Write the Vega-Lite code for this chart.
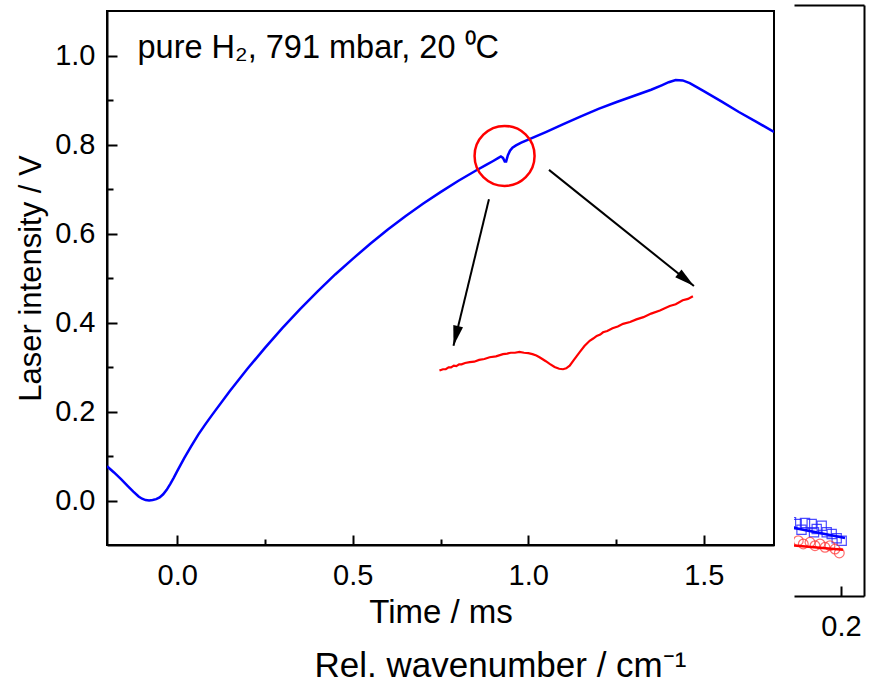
{
  "$schema": "https://vega.github.io/schema/vega-lite/v6.json",
  "padding": {"left": 14, "top": 5, "right": 11, "bottom": 3},
  "background": "white",
  "spacing": 19,
  "config": {
    "font": "Liberation Sans",
    "axis": {"labelFont": "Liberation Sans", "titleFont": "Liberation Sans", "labelColor": "#000", "titleColor": "#000", "domainColor": "#000", "tickColor": "#000", "domainWidth": 2, "tickWidth": 2, "grid": false, "labelFontSize": 29, "titleFontSize": 32, "titleFontWeight": "normal"},
    "title": {"font": "Liberation Sans", "fontSize": 35, "fontWeight": "normal", "color": "#000"}
  },
  "hconcat": [
    {
      "width": 667,
      "height": 534,
      "view": {"stroke": "#000", "strokeWidth": 2},
      "title": {"text": "Rel. wavenumber / cm⁻¹", "orient": "bottom", "anchor": "middle", "dx": 60, "offset": 20},
      "layer": [
        {
          "data": {"values": [
            {"t": -0.2, "v": 0.077}, {"t": -0.18, "v": 0.063}, {"t": -0.16, "v": 0.048}, {"t": -0.14, "v": 0.032},
            {"t": -0.125, "v": 0.02}, {"t": -0.11, "v": 0.009}, {"t": -0.1, "v": 0.004}, {"t": -0.09, "v": 0.001},
            {"t": -0.08, "v": 0.0}, {"t": -0.07, "v": 0.001}, {"t": -0.06, "v": 0.003}, {"t": -0.05, "v": 0.007},
            {"t": -0.04, "v": 0.014}, {"t": -0.03, "v": 0.024}, {"t": -0.02, "v": 0.037}, {"t": -0.01, "v": 0.051},
            {"t": 0.0, "v": 0.066}, {"t": 0.02, "v": 0.095}, {"t": 0.04, "v": 0.122}, {"t": 0.06, "v": 0.148},
            {"t": 0.08, "v": 0.171}, {"t": 0.1, "v": 0.193}, {"t": 0.15, "v": 0.246}, {"t": 0.2, "v": 0.296},
            {"t": 0.25, "v": 0.343}, {"t": 0.3, "v": 0.388}, {"t": 0.35, "v": 0.43}, {"t": 0.4, "v": 0.47},
            {"t": 0.45, "v": 0.508}, {"t": 0.5, "v": 0.543}, {"t": 0.55, "v": 0.577}, {"t": 0.6, "v": 0.609},
            {"t": 0.65, "v": 0.639}, {"t": 0.7, "v": 0.667}, {"t": 0.75, "v": 0.693}, {"t": 0.8, "v": 0.718},
            {"t": 0.85, "v": 0.741}, {"t": 0.88, "v": 0.754}, {"t": 0.9, "v": 0.763}, {"t": 0.915, "v": 0.77},
            {"t": 0.922, "v": 0.773}, {"t": 0.928, "v": 0.77}, {"t": 0.933, "v": 0.762}, {"t": 0.937, "v": 0.762},
            {"t": 0.942, "v": 0.776}, {"t": 0.948, "v": 0.786}, {"t": 0.955, "v": 0.793}, {"t": 0.965, "v": 0.798},
            {"t": 0.98, "v": 0.804}, {"t": 1.0, "v": 0.811}, {"t": 1.05, "v": 0.828}, {"t": 1.1, "v": 0.846},
            {"t": 1.15, "v": 0.863}, {"t": 1.2, "v": 0.88}, {"t": 1.25, "v": 0.895}, {"t": 1.3, "v": 0.909},
            {"t": 1.35, "v": 0.923}, {"t": 1.38, "v": 0.933}, {"t": 1.4, "v": 0.94}, {"t": 1.42, "v": 0.945},
            {"t": 1.44, "v": 0.944}, {"t": 1.46, "v": 0.938}, {"t": 1.48, "v": 0.929}, {"t": 1.5, "v": 0.92},
            {"t": 1.55, "v": 0.897}, {"t": 1.6, "v": 0.873}, {"t": 1.65, "v": 0.851}, {"t": 1.7, "v": 0.828}
          ]},
          "mark": {"type": "line", "color": "#0000ff", "strokeWidth": 2.5, "clip": true},
          "encoding": {
            "x": {"field": "t", "type": "quantitative", "scale": {"domain": [-0.2, 1.7], "nice": false, "zero": false},
              "axis": {"orient": "bottom", "title": "Time / ms", "titleFontSize": 33, "values": [0, 0.25, 0.5, 0.75, 1, 1.25, 1.5],
                "labelExpr": "round(datum.value*4)%2==0 ? format(datum.value,'.1f') : ''",
                "tickSize": {"condition": {"test": "round(datum.value*4)%2!=0", "value": -6}, "value": -10},
                "labelPadding": 26, "titlePadding": 6}},
            "y": {"field": "v", "type": "quantitative", "scale": {"domain": [-0.1, 1.1], "nice": false, "zero": false},
              "axis": {"orient": "left", "title": "Laser intensity / V", "titleFontSize": 31, "values": [0, 0.1, 0.2, 0.3, 0.4, 0.5, 0.6, 0.7, 0.8, 0.9, 1.0],
                "labelExpr": "round(datum.value*10)%2==0 ? format(datum.value,'.1f') : ''",
                "tickSize": {"condition": {"test": "round(datum.value*10)%2!=0", "value": -6}, "value": -10},
                "labelPadding": 22, "titlePadding": 7}}
          }
        },
        {
          "data": {"values": [
            {"t": 0.747, "v": 0.292}, {"t": 0.757, "v": 0.295}, {"t": 0.765, "v": 0.295}, {"t": 0.773, "v": 0.299},
            {"t": 0.78, "v": 0.299}, {"t": 0.788, "v": 0.303}, {"t": 0.795, "v": 0.302}, {"t": 0.803, "v": 0.306},
            {"t": 0.81, "v": 0.306}, {"t": 0.82, "v": 0.309}, {"t": 0.833, "v": 0.311}, {"t": 0.846, "v": 0.312},
            {"t": 0.86, "v": 0.316}, {"t": 0.875, "v": 0.318}, {"t": 0.89, "v": 0.322}, {"t": 0.908, "v": 0.324},
            {"t": 0.928, "v": 0.329}, {"t": 0.94, "v": 0.33}, {"t": 0.95, "v": 0.332}, {"t": 0.962, "v": 0.332},
            {"t": 0.975, "v": 0.334}, {"t": 0.988, "v": 0.332}, {"t": 1.0, "v": 0.331}, {"t": 1.012, "v": 0.329},
            {"t": 1.023, "v": 0.326}, {"t": 1.032, "v": 0.322}, {"t": 1.04, "v": 0.318}, {"t": 1.05, "v": 0.313},
            {"t": 1.061, "v": 0.307}, {"t": 1.075, "v": 0.3}, {"t": 1.088, "v": 0.296}, {"t": 1.099, "v": 0.295},
            {"t": 1.108, "v": 0.297}, {"t": 1.118, "v": 0.303}, {"t": 1.13, "v": 0.316}, {"t": 1.146, "v": 0.333},
            {"t": 1.16, "v": 0.347}, {"t": 1.175, "v": 0.359}, {"t": 1.185, "v": 0.364}, {"t": 1.195, "v": 0.37},
            {"t": 1.205, "v": 0.373}, {"t": 1.213, "v": 0.378}, {"t": 1.225, "v": 0.381}, {"t": 1.24, "v": 0.387},
            {"t": 1.255, "v": 0.391}, {"t": 1.27, "v": 0.397}, {"t": 1.29, "v": 0.401}, {"t": 1.308, "v": 0.407},
            {"t": 1.328, "v": 0.412}, {"t": 1.35, "v": 0.42}, {"t": 1.375, "v": 0.427}, {"t": 1.403, "v": 0.437},
            {"t": 1.42, "v": 0.441}, {"t": 1.44, "v": 0.45}, {"t": 1.455, "v": 0.453}, {"t": 1.469, "v": 0.459}
          ]},
          "mark": {"type": "line", "color": "#ff0000", "strokeWidth": 2.2},
          "encoding": {
            "x": {"field": "t", "type": "quantitative"},
            "y": {"field": "v", "type": "quantitative"}
          }
        },
        {
          "data": {"values": [{"t": 0.9325, "v": 0.7743}]},
          "mark": {"type": "point", "shape": "circle", "size": 3600, "filled": false, "color": "#ff0000", "strokeWidth": 2.5, "opacity": 1},
          "encoding": {
            "x": {"field": "t", "type": "quantitative"},
            "y": {"field": "v", "type": "quantitative"}
          }
        },
        {
          "data": {"values": [
            {"t": 0.888, "v": 0.677, "t2": 0.787, "v2": 0.348},
            {"t": 1.059, "v": 0.743, "t2": 1.472, "v2": 0.482}
          ]},
          "mark": {"type": "rule", "color": "#000", "strokeWidth": 2},
          "encoding": {
            "x": {"field": "t", "type": "quantitative"},
            "y": {"field": "v", "type": "quantitative"},
            "x2": {"field": "t2"},
            "y2": {"field": "v2"}
          }
        },
        {
          "data": {"values": [{"t": 0.787, "v": 0.348}]},
          "mark": {"type": "point", "shape": "M0,0L-0.5,2L0.5,2Z", "size": 400, "filled": true, "color": "#000", "opacity": 1, "angle": 193.5},
          "encoding": {
            "x": {"field": "t", "type": "quantitative"},
            "y": {"field": "v", "type": "quantitative"}
          }
        },
        {
          "data": {"values": [{"t": 1.472, "v": 0.482}]},
          "mark": {"type": "point", "shape": "M0,0L-0.5,2L0.5,2Z", "size": 400, "filled": true, "color": "#000", "opacity": 1, "angle": 128.8},
          "encoding": {
            "x": {"field": "t", "type": "quantitative"},
            "y": {"field": "v", "type": "quantitative"}
          }
        },
        {
          "data": {"values": [{"t": -0.113, "v": 1.017, "label": "pure H₂, 791 mbar, 20 ⁰C"}]},
          "mark": {"type": "text", "align": "left", "baseline": "middle", "fontSize": 32.5, "font": "Liberation Sans", "color": "#000"},
          "encoding": {
            "x": {"field": "t", "type": "quantitative"},
            "y": {"field": "v", "type": "quantitative"},
            "text": {"field": "label"}
          }
        }
      ]
    },
    {
      "width": 70,
      "height": 585,
      "view": {"stroke": null},
      "resolve": {"axis": {"x": "independent", "y": "independent"}},
      "layer": [
        {
          "data": {"values": [
            {"w": 0.09, "a": 0.128}, {"w": 0.1, "a": 0.125}, {"w": 0.1114, "a": 0.1218}, {"w": 0.121, "a": 0.112},
            {"w": 0.128, "a": 0.1235}, {"w": 0.1414, "a": 0.1218}, {"w": 0.146, "a": 0.108}, {"w": 0.1514, "a": 0.1134},
            {"w": 0.1614, "a": 0.119}, {"w": 0.1714, "a": 0.1078}, {"w": 0.1814, "a": 0.1049}, {"w": 0.1914, "a": 0.0976},
            {"w": 0.2014, "a": 0.0936}
          ]},
          "mark": {"type": "point", "shape": "square", "filled": false, "color": "#2020ff", "strokeWidth": 1.2, "size": 85, "opacity": 0.8, "clip": true},
          "encoding": {
            "x": {"field": "w", "type": "quantitative", "scale": {"domain": [0.106, 0.246], "nice": false, "zero": false},
              "axis": {"orient": "bottom", "values": [0.2], "format": ".1f", "tickSize": -10, "labelPadding": 26, "title": null}},
            "y": {"field": "a", "type": "quantitative", "scale": {"domain": [0, 1], "range": [585, -6], "nice": false, "zero": false},
              "axis": {"orient": "right", "labels": false, "ticks": false, "title": null}}
          }
        },
        {
          "data": {"values": [
            {"w": 0.095, "a": 0.092}, {"w": 0.1146, "a": 0.0936}, {"w": 0.1246, "a": 0.088}, {"w": 0.138, "a": 0.0909},
            {"w": 0.148, "a": 0.0851}, {"w": 0.158, "a": 0.088}, {"w": 0.168, "a": 0.0824}, {"w": 0.178, "a": 0.0851},
            {"w": 0.188, "a": 0.0795}, {"w": 0.1966, "a": 0.0728}
          ]},
          "mark": {"type": "point", "shape": "circle", "filled": false, "color": "#ff3030", "strokeWidth": 1.2, "size": 95, "opacity": 0.7, "clip": true},
          "encoding": {
            "x": {"field": "w", "type": "quantitative", "axis": null},
            "y": {"field": "a", "type": "quantitative", "axis": null}
          }
        },
        {
          "data": {"values": [{"w": 0.09, "a": 0.118}, {"w": 0.208, "a": 0.0981}]},
          "mark": {"type": "line", "color": "#0000ff", "strokeWidth": 2.5, "clip": true},
          "encoding": {
            "x": {"field": "w", "type": "quantitative",
              "axis": {"orient": "top", "labels": false, "ticks": false, "title": null, "offset": 6}},
            "y": {"field": "a", "type": "quantitative", "axis": null}
          }
        },
        {
          "data": {"values": [{"w": 0.09, "a": 0.0865}, {"w": 0.204, "a": 0.0783}]},
          "mark": {"type": "line", "color": "#ff0000", "strokeWidth": 2.5, "clip": true},
          "encoding": {
            "x": {"field": "w", "type": "quantitative", "axis": null},
            "y": {"field": "a", "type": "quantitative", "axis": null}
          }
        }
      ]
    }
  ]
}
